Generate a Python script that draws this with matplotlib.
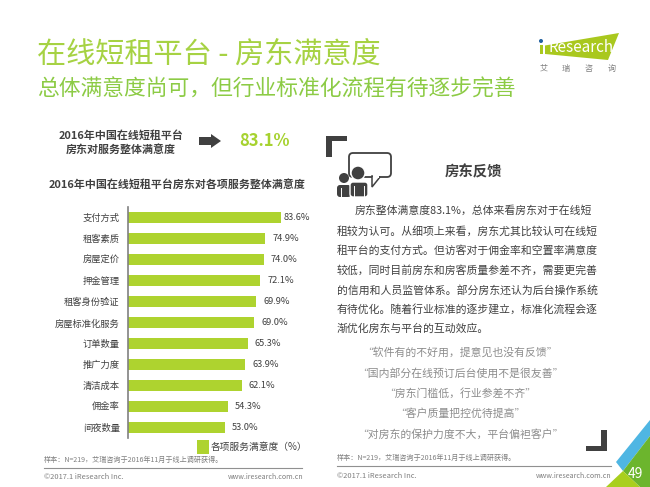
# -*- coding: utf-8 -*-
import matplotlib
matplotlib.use("Agg")
import matplotlib.pyplot as plt
from matplotlib.patches import Polygon, Circle, FancyBboxPatch, Rectangle

plt.rcParams['font.family'] = ['Noto Sans CJK SC', 'DejaVu Sans']

GREEN = "#aed32f"
DARK = "#404040"
GREY = "#7f7f7f"

# chart data
categories = ["支付方式", "租客素质", "房屋定价", "押金管理", "租客身份验证", "房屋标准化服务",
              "订单数量", "推广力度", "清洁成本", "佣金率", "间夜数量"]
values = [83.6, 74.9, 74.0, 72.1, 69.9, 69.0, 65.3, 63.9, 62.1, 54.3, 53.0]
series_name = "各项服务满意度（%）"

body_lines = ["房东整体满意度83.1%，总体来看房东对于在线短",
              "租较为认可。从细项上来看，房东尤其比较认可在线短",
              "租平台的支付方式。但访客对于佣金率和空置率满意度",
              "较低，同时目前房东和房客质量参差不齐，需要更完善",
              "的信用和人员监管体系。部分房东还认为后台操作系统",
              "有待优化。随着行业标准的逐步建立，标准化流程会逐",
              "渐优化房东与平台的互动效应。"]
quotes = ["“软件有的不好用，提意见也没有反馈”",
          "“国内部分在线预订后台使用不是很友善”",
          "“房东门槛低，行业参差不齐”",
          "“客户质量把控优待提高”",
          "“对房东的保护力度不大，平台偏袒客户”"]

W, H = 650, 487
fig = plt.figure(figsize=(W / 100, H / 100), dpi=100, facecolor="white")

# page layer in pixel coords
page = fig.add_axes([0, 0, 1, 1])
page.set_xlim(0, W)
page.set_ylim(H, 0)
page.axis("off")

# corner triangles
page.add_patch(Polygon([(650, 420), (616, 462), (623, 471), (650, 436)], color="#4fb6e3", lw=0))
page.add_patch(Polygon([(623, 471), (650, 436), (650, 487), (640, 487)], color="#6cb52d", lw=0))
page.add_patch(Polygon([(623, 471), (640, 487), (606, 487)], color="#a9cf1e", lw=0))
page.text(635, 474, "49", color="white", fontsize=10, ha="center", va="center")

# titles
page.text(37, 55, "在线短租平台 - 房东满意度", color="#a6d243", fontsize=21, va="center")
page.text(37, 90, "总体满意度尚可，但行业标准化流程有待逐步完善", color="#8ccb45", fontsize=15.7, va="center")

# logo
page.add_patch(Polygon([(545, 45.5), (619, 33), (608, 60), (545, 54)], color="#a9c81e", lw=0))
page.add_patch(Circle((541, 41), 2, color="#1f5f9f", lw=0))
page.add_patch(Rectangle((539.5, 45), 3.5, 9, color="#a9c81e", lw=0))
page.text(548, 48, "Research", color="white", fontsize=11, va="center")
for cx, ch in zip([543.5, 566, 589, 612], "艾瑞咨询"):
    page.text(cx, 68, ch, color=GREY, fontsize=5.8, ha="center", va="center")

# overall score row
page.text(121, 135, "2016年中国在线短租平台", color=DARK, fontsize=7.9, weight="bold", ha="center", va="center")
page.text(121, 149, "房东对服务整体满意度", color=DARK, fontsize=7.9, weight="bold", ha="center", va="center")
page.add_patch(Polygon([(199, 137), (211, 137), (211, 134), (221, 141), (211, 148), (211, 145), (199, 145)],
                       color=DARK, lw=0))
page.text(265, 141, "83.1%", color="#a6d22f", fontsize=12, weight="bold", ha="center", va="center")
page.text(177.5, 184, "2016年中国在线短租平台房东对各项服务整体满意度", color=DARK, fontsize=7.9,
          weight="bold", ha="center", va="center")

# feedback panel
page.add_patch(Polygon([(326, 136), (347, 136), (347, 141), (332, 141), (332, 157), (326, 157)], color=DARK, lw=0))
page.add_patch(Polygon([(607, 430), (607, 451), (586, 451), (586, 446), (601, 446), (601, 430)], color=DARK, lw=0))
page.add_patch(FancyBboxPatch((349, 153), 42, 24, boxstyle="round,pad=0,rounding_size=4", fc="white", ec=DARK, lw=1.3))
page.add_patch(Polygon([(372, 176), (380, 177), (372, 187)], fc="white", ec=DARK, lw=1.1))
page.add_patch(Rectangle((373, 175), 6, 2.5, color="white", lw=0))
page.add_patch(Circle((344, 178), 5, color=DARK, lw=0))
page.add_patch(FancyBboxPatch((337, 185), 14, 12, boxstyle="round,pad=0,rounding_size=3", color=DARK, lw=0))
page.add_patch(Circle((358, 173), 7, fc=DARK, ec="white", lw=1))
page.add_patch(FancyBboxPatch((350, 182), 18, 15, boxstyle="round,pad=0,rounding_size=3", fc=DARK, ec="white", lw=1))
for x, y0 in [(341, 188), (354, 186), (364, 186)]:
    page.plot([x, x], [y0, 197], color="white", lw=0.7)
page.text(473.5, 172, "房东反馈", color=DARK, fontsize=10.4, weight="bold", ha="center", va="center")

body_y = [211, 231, 250, 270, 290, 309, 329]
for i, (line, y) in enumerate(zip(body_lines, body_y)):
    page.text(355 if i == 0 else 337, y, line, color=DARK, fontsize=7.8, va="center")
quote_y = [352, 373, 393, 413, 434]
for line, y in zip(quotes, quote_y):
    page.text(460, y, line, color="#8c8c8c", fontsize=7.8, ha="center", va="center")

# footers
sample = "样本：N=219，艾瑞咨询于2016年11月于线上调研获得。"
page.text(44, 460, sample, color=GREY, fontsize=5.1, va="center")
page.text(337, 458, sample, color=GREY, fontsize=5.1, va="center")
page.plot([44, 302], [468, 468], color="#909090", lw=0.8)
page.plot([337, 611], [466, 466], color="#909090", lw=0.8)
page.text(44, 477, "©2017.1 iResearch Inc.", color=GREY, fontsize=5.4, va="center")
page.text(303, 477, "www.iresearch.com.cn", color=GREY, fontsize=5.1, va="center", ha="right")
page.text(337, 476, "©2017.1 iResearch Inc.", color=GREY, fontsize=5.4, va="center")
page.text(611, 476, "www.iresearch.com.cn", color=GREY, fontsize=5.1, va="center", ha="right")

# bar chart
ax = fig.add_axes([128 / W, 1 - 438 / H, 183.3 / W, 231 / H])
ax.patch.set_alpha(0)
bars = ax.barh(categories, values, height=0.48, color=GREEN, label=series_name)
ax.set_xlim(0, 100)
ax.set_ylim(10.5, -0.5)
ax.xaxis.set_visible(False)
for s in ["top", "right", "bottom"]:
    ax.spines[s].set_visible(False)
ax.spines["left"].set_color("#808080")
ax.spines["left"].set_linewidth(1.2)
ax.tick_params(axis="y", length=0, pad=6, labelsize=6.7, labelcolor=DARK)

for i, (b, v) in enumerate(zip(bars, values)):
    ax.annotate("%.1f%%" % v, (v, i), xytext=(1.5 if i == 0 else 5, 0), textcoords="offset points",
                va="center", fontsize=6.7, color=DARK)

ax.legend(loc="center left", bbox_to_anchor=(197 / W, 1 - 447 / H), bbox_transform=fig.transFigure,
          frameon=False, fontsize=7, handlelength=1.2, handleheight=1.9, handletextpad=0.25,
          labelcolor=DARK, borderaxespad=0, borderpad=0)

fig.savefig("out.png", dpi=100)
